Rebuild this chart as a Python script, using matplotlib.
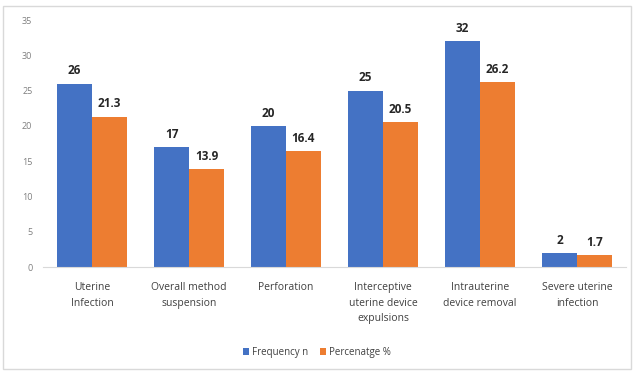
import matplotlib
matplotlib.use("Agg")
import matplotlib.pyplot as plt
import numpy as np
from matplotlib.patches import Rectangle

categories = ["Uterine\nInfection", "Overall method\nsuspension", "Perforation",
              "Interceptive\nuterine device\nexpulsions", "Intrauterine\ndevice removal",
              "Severe uterine\ninfection"]
frequency = [26, 17, 20, 25, 32, 2]
percentage = [21.3, 13.9, 16.4, 20.5, 26.2, 1.7]
freq_labels = ["26", "17", "20", "25", "32", "2"]
pct_labels = ["21.3", "13.9", "16.4", "20.5", "26.2", "1.7"]
series_names = ["Frequency n", "Percenatge %"]

blue = "#4472C4"
orange = "#ED7D31"
font = "Open Sans"

fig = plt.figure(figsize=(6.34, 3.71), dpi=100)
fig.patches.append(Rectangle((0.004, 0.005), 0.992, 0.978, transform=fig.transFigure,
                             fill=False, edgecolor="#d9d9d9", linewidth=1.0))
ax = fig.add_axes([0.0686, 0.2803, 0.918, 0.6657])

x = np.arange(len(categories))
w = 0.36
b1 = ax.bar(x - w / 2, frequency, w, color=blue, label=series_names[0])
b2 = ax.bar(x + w / 2, percentage, w, color=orange, label=series_names[1])

for xi, v, t in zip(x, frequency, freq_labels):
    ax.text(xi - w / 2, v + 0.9, t, ha="center", va="bottom", fontsize=8.5,
            fontweight="bold", color="#262626", family=font)
for xi, v, t in zip(x, percentage, pct_labels):
    ax.text(xi + w / 2, v + 0.9, t, ha="center", va="bottom", fontsize=8.5,
            fontweight="bold", color="#262626", family=font)

ax.set_xlim(-0.5, len(categories) - 0.5)
ax.set_ylim(0, 35)
ax.set_yticks(np.arange(0, 36, 5))
ax.set_xticks(x)
ax.set_xticklabels(categories, fontsize=7.5, color="#404040", family=font, linespacing=1.55)
ax.tick_params(axis="y", labelsize=6.5, labelcolor="#7f7f7f", length=0, pad=8)
ax.tick_params(axis="x", length=0, pad=11)
for lab in ax.get_yticklabels():
    lab.set_family(font)

for s in ["top", "right", "left"]:
    ax.spines[s].set_visible(False)
ax.spines["bottom"].set_color("#d9d9d9")

leg = fig.legend(handles=[b1, b2], loc="center", bbox_to_anchor=(0.5, 0.05), ncol=2,
                 frameon=False, prop={"family": font, "size": 7}, handlelength=0.6,
                 handleheight=0.6, handletextpad=0.3, columnspacing=1.2)
for t in leg.get_texts():
    t.set_color("#404040")

fig.savefig("out.png", dpi=100)
